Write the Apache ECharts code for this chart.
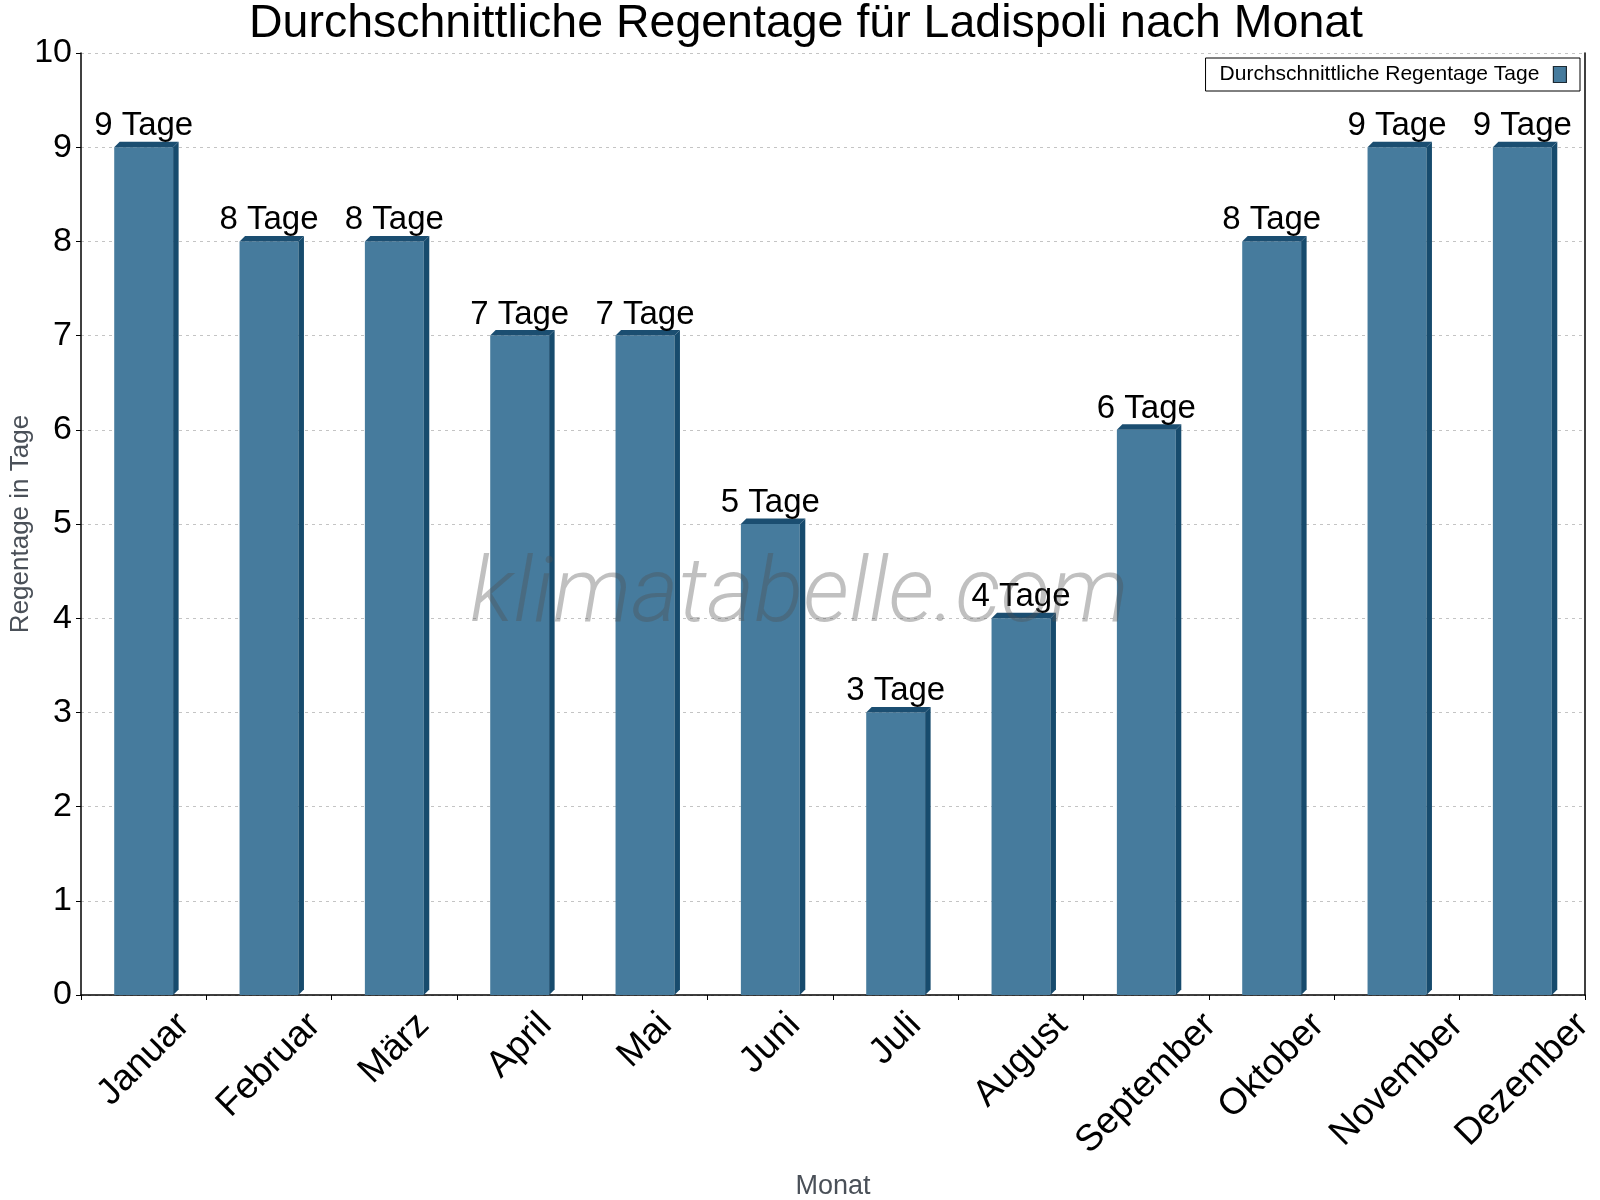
<!DOCTYPE html>
<html>
<head>
<meta charset="utf-8">
<title>Durchschnittliche Regentage für Ladispoli nach Monat</title>
<script src="https://cdn.jsdelivr.net/npm/echarts@6/dist/echarts.min.js"></script>
<style>
  html, body { margin: 0; padding: 0; background: #fff; }
  #chart { width: 1600px; height: 1200px; }
</style>
</head>
<body>
<div id="chart"></div>
<script>
// ---- data
var months = ['Januar', 'Februar', 'März', 'April', 'Mai', 'Juni', 'Juli',
  'August', 'September', 'Oktober', 'November', 'Dezember'];
var rainDays = [9, 8, 8, 7, 7, 5, 3, 4, 6, 8, 9, 9];
var yTicks = [0, 1, 2, 3, 4, 5, 6, 7, 8, 9, 10];

var FONT = '"Liberation Sans", Arial, sans-serif';
var FRONT = '#467b9d';
var SIDE = '#174b6d';
var TOP = '#1b4e71';
var MONTH_SIZE = 37;

// text width for the rotated month labels
var ctx = document.createElement('canvas').getContext('2d');
ctx.font = MONTH_SIZE + 'px ' + FONT;
function textWidth(s) { return ctx.measureText(s).width; }

var chart = echarts.init(document.getElementById('chart'));

function renderBar(params, api) {
  var i = api.value(0);
  var v = api.value(1);
  var base = api.coord([i, 0]);
  var top = api.coord([i, v]);
  var band = api.size([1, 0])[0];
  var w = band * 0.47;
  var d = 5.5;
  var x0 = base[0] - w / 2, x1 = base[0] + w / 2;
  var y0 = base[1], y1 = top[1];

  // month label: rotated 45°, centred under the bar, top edge just below axis
  var name = months[i];
  var L = textWidth(name);
  var cy = y0 + 14 + 0.3535 * (L + MONTH_SIZE * 0.8);

  return {
    type: 'group',
    children: [{
      type: 'polygon',
      shape: { points: [[x0, y0], [x1, y0], [x1, y1], [x0, y1]] },
      style: { fill: FRONT }
    }, {
      type: 'polygon',
      shape: { points: [[x1, y0], [x1 + d, y0 - d], [x1 + d, y1 - d], [x1, y1]] },
      style: { fill: SIDE }
    }, {
      type: 'polygon',
      shape: { points: [[x0, y1], [x1, y1], [x1 + d, y1 - d], [x0 + d, y1 - d]] },
      style: { fill: TOP }
    }, {
      type: 'text',
      x: base[0], y: y1 - d + 1,
      style: {
        text: v + ' Tage', fill: '#000', font: '33px ' + FONT,
        textAlign: 'center', textVerticalAlign: 'bottom'
      },
      z2: 20
    }, {
      type: 'text',
      x: base[0], y: cy,
      rotation: Math.PI / 4,
      style: {
        text: name, fill: '#000', font: MONTH_SIZE + 'px ' + FONT,
        textAlign: 'center', textVerticalAlign: 'middle'
      }
    }]
  };
}

var option = {
  backgroundColor: '#fff',
  animation: false,
  title: {
    text: 'Durchschnittliche Regentage für Ladispoli nach Monat',
    left: 801, top: -4, textAlign: 'center',
    textStyle: { fontFamily: FONT, fontSize: 46.5, fontWeight: 'normal', color: '#000' }
  },
  legend: {
    right: 20, top: 58,
    padding: [6, 13, 6, 14],
    borderColor: '#000', borderWidth: 1, borderRadius: 0,
    backgroundColor: '#fff',
    align: 'right',
    itemWidth: 13, itemHeight: 16, itemGap: 8,
    icon: 'rect',
    itemStyle: { color: FRONT, borderColor: '#1d2a33', borderWidth: 1.2 },
    textStyle: { fontFamily: FONT, fontSize: 21, color: '#000', padding: [0, 9, 0, 0] },
    data: ['Durchschnittliche Regentage Tage']
  },
  graphic: [{
    type: 'text',
    left: 470, top: 553, z: 100,
    style: {
      text: 'klimatabelle.com',
      font: 'italic 300 91px Roboto, "Open Sans", sans-serif',
      fill: 'rgba(80,80,80,0.36)'
    },
    silent: true
  }],
  grid: { left: 81, right: 15, top: 53, bottom: 205, containLabel: false, outerBoundsMode: 'none' },
  xAxis: {
    type: 'category',
    data: months,
    name: 'Monat',
    nameLocation: 'middle',
    nameGap: 178,
    nameMoveOverlap: false,
    nameTextStyle: { fontFamily: FONT, fontSize: 27, color: '#4a5058' },
    axisLine: { lineStyle: { color: '#000', width: 1.5 } },
    axisTick: { show: true, length: 5, alignWithLabel: false, lineStyle: { color: '#000' } },
    axisLabel: { show: false },
    splitLine: { show: false }
  },
  yAxis: [{
    type: 'value',
    min: yTicks[0], max: yTicks[yTicks.length - 1], interval: 1,
    name: 'Regentage in Tage',
    nameLocation: 'middle',
    nameGap: 47,
    nameMoveOverlap: false,
    nameTextStyle: { fontFamily: FONT, fontSize: 26, color: '#4a5058' },
    axisLine: { show: true, lineStyle: { color: '#000', width: 1.5 } },
    axisTick: { show: true, length: 5, lineStyle: { color: '#000' } },
    axisLabel: { margin: 9, fontFamily: FONT, fontSize: 34, color: '#000' },
    splitLine: { show: true, lineStyle: { color: '#c4c4c4', type: [3, 4], width: 1 } }
  }, {
    type: 'value', position: 'right',
    min: 0, max: 10, interval: 1,
    axisLine: { show: true, onZero: false, lineStyle: { color: '#000', width: 1.5 } },
    axisTick: { show: false }, axisLabel: { show: false }, splitLine: { show: false }
  }],
  series: [{
    name: 'Durchschnittliche Regentage Tage',
    type: 'custom',
    renderItem: renderBar,
    clip: false,
    itemStyle: { color: FRONT },
    encode: { x: 0, y: 1 },
    data: rainDays.map(function (v, i) { return [i, v]; })
  }]
};

chart.setOption(option);
</script>
</body>
</html>
